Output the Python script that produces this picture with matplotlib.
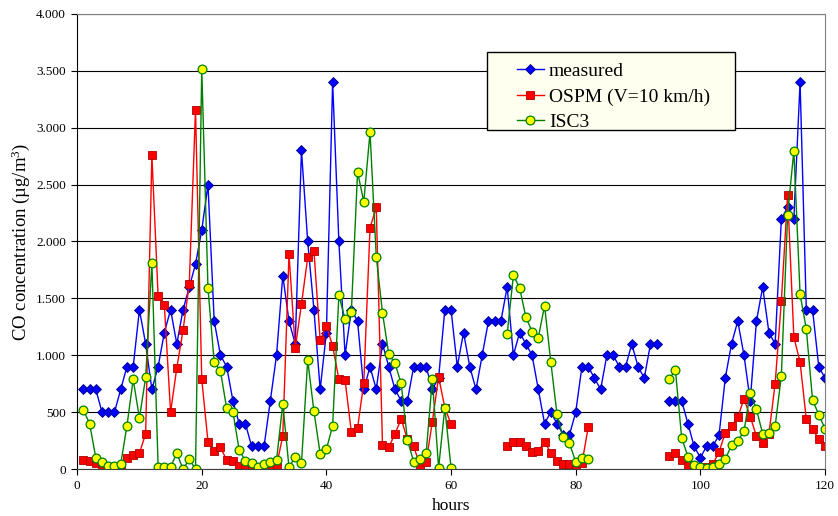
import numpy as np
import matplotlib
matplotlib.use("Agg")
import matplotlib.pyplot as plt
from matplotlib.patches import Rectangle
from matplotlib.ticker import FuncFormatter, MultipleLocator

plt.rcParams["font.family"] = ["Liberation Serif", "DejaVu Serif"]
plt.rcParams["mathtext.fontset"] = "custom"
plt.rcParams["mathtext.rm"] = "Liberation Serif"
plt.rcParams["mathtext.it"] = "Liberation Serif:italic"

nan = np.nan
hours = np.arange(1, 121)

# hourly CO concentrations (ug/m3), NaN where no value
measured = [
    700, 700, 700, 500, 500, 500, 700, 900, 900, 1400,
    1100, 700, 900, 1200, 1400, 1100, 1400, 1600, 1800, 2100,
    2500, 1300, 1000, 900, 600, 400, 400, 200, 200, 200,
    600, 1000, 1700, 1300, 1100, 2800, 2000, 1400, 700, 1200,
    3400, 2000, 1000, 1400, 1300, 700, 900, 700, 1100, 900,
    700, 600, 600, 900, 900, 900, 700, 800, 1400, 1400,
    900, 1200, 900, 700, 1000, 1300, 1300, 1300, 1600, 1000,
    1200, 1100, 1000, 700, 400, 500, 400, 300, 300, 500,
    900, 900, 800, 700, 1000, 1000, 900, 900, 1100, 900,
    800, 1100, 1100, nan, 600, 600, 600, 400, 200, 100,
    200, 200, 300, 800, 1100, 1300, 1000, 600, 1300, 1600,
    1200, 1100, 2200, 2300, 2200, 3400, 1400, 1400, 900, 800,
]
ospm = [
    80, 70, 55, 30, 15, 5, 15, 100, 120, 140,
    310, 2760, 1520, 1440, 500, 890, 1220, 1630, 3160, 790,
    240, 160, 190, 80, 75, 30, 15, 0, 0, 5,
    20, 30, 290, 1890, 1060, 1450, 1860, 1920, 1130, 1260,
    1080, 790, 780, 325, 360, 760, 2120, 2300, 210, 190,
    310, 440, 260, 200, 35, 64, 416, 810, 540, 395,
    nan, nan, nan, nan, nan, nan, nan, nan, 200, 235,
    235, 200, 146, 158, 240, 144, 70, 41, 41, 26,
    50, 366, nan, nan, nan, nan, nan, nan, nan, nan,
    nan, nan, nan, nan, 115, 144, 79, 26, 15, 0,
    20, 44, 150, 319, 380, 454, 618, 460, 290, 225,
    310, 751, 1480, 2410, 1160, 940, 437, 355, 260, 200,
]
isc3 = [
    520, 400, 100, 65, 26, 26, 44, 381, 788, 448,
    806, 1808, 20, 20, 20, 138, 0, 85, 0, 3517,
    1589, 938, 862, 533, 504, 167, 73, 50, 20, 44,
    65, 80, 574, 15, 108, 50, 958, 507, 135, 173,
    381, 1527, 1316, 1380, 2612, 2348, 2960, 1867, 1373, 1012,
    930, 752, 255, 65, 90, 140, 790, 8, 540, 8,
    nan, nan, nan, nan, nan, nan, nan, nan, 1184, 1702,
    1594, 1336, 1208, 1154, 1436, 943, 480, 278, 226, 64,
    100, 86, nan, nan, nan, nan, nan, nan, nan, nan,
    nan, nan, nan, nan, 791, 868, 276, 110, 38, 20,
    6, 20, 44, 85, 211, 249, 331, 671, 525, 310,
    314, 378, 821, 2236, 2796, 1536, 1231, 607, 478, 355,
]

fig = plt.figure(figsize=(8.38, 5.16), dpi=100)
ax = fig.add_axes([0.092, 0.091, 0.8925, 0.882])

ax.plot(hours, measured, color="#0000FF", lw=1, marker="D", ms=5,
        mfc="#0000FF", mec="#000080", mew=0.6, label="measured")
ax.plot(hours, ospm, color="#FF0000", lw=1, marker="s", ms=5.5,
        mfc="#FF0000", mec="#B00000", mew=0.6, label="OSPM (V=10 km/h)")
ax.plot(hours, isc3, color="#008000", lw=1, marker="o", ms=6.3,
        mfc="#FFFF00", mec="#008000", mew=0.9, label="ISC3")

ax.set_xlim(0, 120)
ax.set_ylim(0, 4000)
ax.xaxis.set_major_locator(MultipleLocator(20))
ax.yaxis.set_major_locator(MultipleLocator(500))
ax.yaxis.set_major_formatter(FuncFormatter(lambda v, p: f"{int(v):,}".replace(",", ".")))
ax.grid(axis="y", color="black", lw=0.8)
ax.set_axisbelow(True)
ax.tick_params(direction="out", length=4.5, width=0.8, labelsize=9.5, colors="black")
for s in ["top", "right"]:
    ax.spines[s].set_color("#808080")
ax.spines["left"].set_color("black")
ax.spines["bottom"].set_color("#404040")

ax.set_xlabel("hours", fontsize=12.5, labelpad=4)
ax.set_ylabel(r"CO concentration (µg/m$^{3}$)", fontsize=13.5, labelpad=3)

# legend box
ax.add_patch(Rectangle((0.548, 0.745), 0.332, 0.171, transform=ax.transAxes,
                       facecolor="#FFFFF0", edgecolor="black", lw=1, zorder=5))
leg = ax.legend(loc="center left", bbox_to_anchor=(0.588, 0.818), frameon=False,
                fontsize=14, handlelength=1.4, handletextpad=0.25,
                labelspacing=0.4, borderpad=0, borderaxespad=0)
leg.set_zorder(6)

fig.savefig("out.png", dpi=100)
